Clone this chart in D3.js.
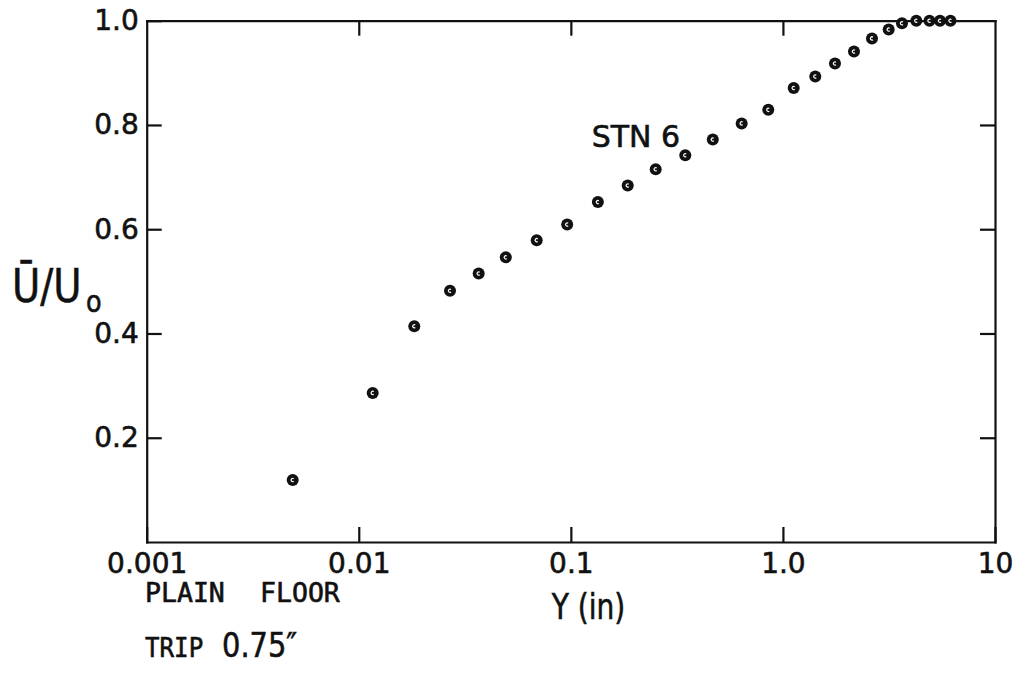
<!DOCTYPE html>
<html>
<head>
<meta charset="utf-8">
<script src="https://cdn.jsdelivr.net/npm/d3@7"></script>
<style>
  html, body { margin: 0; padding: 0; background: #fff; }
  svg { display: block; }
  .axis path, .axis line { stroke: #111; stroke-width: 2.2; }
  .axis text { font-family: "DejaVu Sans", sans-serif; font-size: 28px; fill: #111; stroke: #111; stroke-width: 0.6; }
  .lbl { fill: #111; stroke: #111; stroke-width: 0.6; }
</style>
</head>
<body>
<svg id="chart" width="1018" height="674"></svg>
<script>
// Mean velocity profile, station 6: distance from floor (in) vs. U-bar / U0
const distanceIn = [0.00488, 0.01163, 0.01827, 0.02693, 0.03676, 0.04934, 0.06902, 0.0961,
                    0.1341, 0.1854, 0.2512, 0.3464, 0.467, 0.639, 0.853, 1.124, 1.421,
                    1.760, 2.163, 2.630, 3.153, 3.643, 4.255, 4.909, 5.503, 6.166];
const velocityRatio = [0.119, 0.286, 0.414, 0.482, 0.515, 0.546, 0.579, 0.609,
                       0.652, 0.684, 0.715, 0.742, 0.772, 0.803, 0.829, 0.871, 0.893,
                       0.918, 0.941, 0.966, 0.983, 0.995, 1.0, 1.0, 1.0, 1.0];

const xTickValues = [0.001, 0.01, 0.1, 1, 10];
const xTickLabels = ["0.001", "0.01", "0.1", "1.0", "10"];
const yTickValues = [0.2, 0.4, 0.6, 0.8, 1.0];
const yTickLabels = ["0.2", "0.4", "0.6", "0.8", "1.0"];

const svg = d3.select("#chart");

const x = d3.scaleLog().domain([0.001, 10]).range([146.7, 995]);
const y = d3.scaleLinear().domain([0, 1]).range([542, 20.7]);

const tick = 15;

// Frame: four axes, ticks pointing into the plot
svg.append("g").attr("class", "axis")
  .attr("transform", `translate(0,${y(0)})`)
  .call(d3.axisBottom(x).tickValues(xTickValues)
    .tickFormat((d, i) => xTickLabels[i])
    .tickSizeInner(-tick).tickSizeOuter(0).tickPadding(11));

svg.append("g").attr("class", "axis")
  .attr("transform", `translate(0,${y(1)})`)
  .call(d3.axisTop(x).tickValues(xTickValues.slice(1, -1))
    .tickFormat("").tickSizeInner(-tick).tickSizeOuter(0));

svg.append("g").attr("class", "axis")
  .attr("transform", `translate(${x(0.001)},0)`)
  .call(d3.axisLeft(y).tickValues(yTickValues)
    .tickFormat((d, i) => yTickLabels[i])
    .tickSizeInner(-tick).tickSizeOuter(0).tickPadding(8));

svg.append("g").attr("class", "axis")
  .attr("transform", `translate(${x(10)},0)`)
  .call(d3.axisRight(y).tickValues(yTickValues.slice(0, -1))
    .tickFormat("").tickSizeInner(-tick).tickSizeOuter(0));

svg.selectAll(".axis .domain").attr("stroke-linecap", "square");

// Data markers: filled circle with a small open "c" inside
const points = distanceIn.map((d, i) => ({ yIn: d, u: velocityRatio[i] }));
const mark = svg.append("g").selectAll("g").data(points).join("g")
  .attr("transform", d => `translate(${x(d.yIn)},${y(d.u)})`);
mark.append("circle").attr("r", 6).attr("fill", "#111");
mark.append("path")
  .attr("d", d3.arc().innerRadius(1.0).outerRadius(2.2)
    .startAngle(Math.PI / 2 + 0.9).endAngle(Math.PI / 2 + 2 * Math.PI - 0.9))
  .attr("fill", "#fff");

// Labels (narrow hand lettering: glyphs squeezed horizontally by sx)
const font = "DejaVu Sans, sans-serif";
const mono = "DejaVu Sans Mono, monospace";

function label(txt, xPos, yPos, family, size, sx) {
  return svg.append("text").attr("class", "lbl")
    .attr("transform", `translate(${xPos},${yPos}) scale(${sx},1)`)
    .attr("font-family", family).attr("font-size", size)
    .text(txt);
}

label("STN 6", 591.7, 147, font, 30, 1.0);
label("Y (in)", 551.7, 619, font, 36, 0.78);
label("Ū/U", 12, 302, font, 46, 0.84);
label("o", 86, 312, font, 30, 0.85);
label("PLAIN", 145, 601.7, mono, 26, 1.02);
label("FLOOR", 260, 601.7, mono, 26, 1.02);
label("TRIP", 145, 656.7, mono, 26, 0.93);
label("0.75″", 222, 656.7, font, 34, 0.85);
</script>
</body>
</html>
